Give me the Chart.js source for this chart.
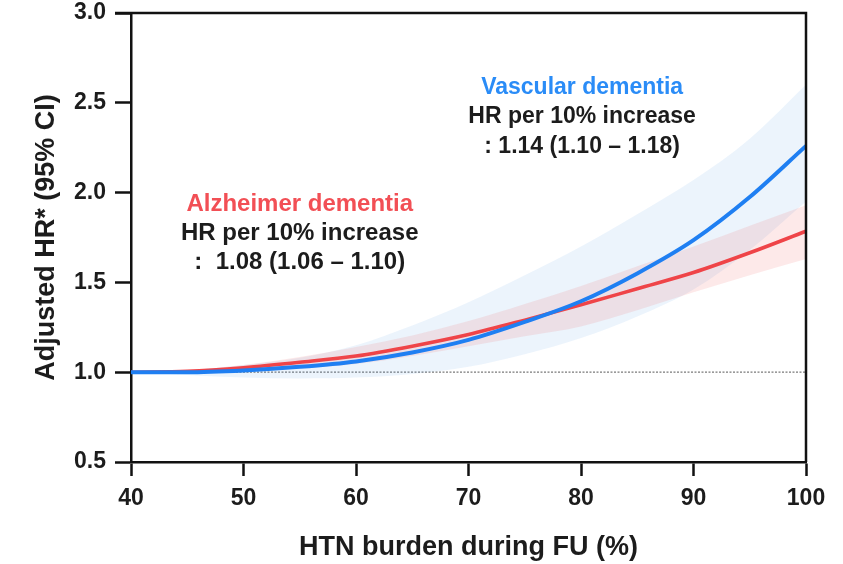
<!DOCTYPE html>
<html>
<head>
<meta charset="utf-8">
<title>HTN burden and dementia risk</title>
<script src="https://cdn.jsdelivr.net/npm/chart.js@4"></script>
<style>
  html, body { margin: 0; padding: 0; background: #fff; }
  #wrap { width: 843px; height: 564px; }
</style>
</head>
<body>
<div id="wrap"><canvas id="c" width="843" height="564"></canvas></div>
<script>
// HTN burden during follow-up (%)
const burden = [40, 45, 50, 55, 60, 65, 70, 75, 80, 85, 90, 95, 100];

// Alzheimer dementia: adjusted HR with 95% CI
const adHR    = [1.00, 1.005, 1.025, 1.055, 1.09, 1.145, 1.21, 1.29, 1.375, 1.465, 1.555, 1.665, 1.785];
const adUpper = [1.00, 1.01, 1.04, 1.085, 1.14, 1.205, 1.285, 1.38, 1.48, 1.59, 1.70, 1.815, 1.93];
const adLower = [1.00, 1.00, 1.005, 1.02, 1.045, 1.09, 1.145, 1.20, 1.255, 1.345, 1.445, 1.54, 1.63];

// Vascular dementia: adjusted HR with 95% CI
const vdHR    = [1.00, 1.00, 1.01, 1.03, 1.06, 1.11, 1.18, 1.28, 1.395, 1.55, 1.735, 1.975, 2.26];
const vdUpper = [1.00, 1.01, 1.04, 1.08, 1.15, 1.26, 1.39, 1.54, 1.70, 1.88, 2.07, 2.30, 2.60];
const vdLower = [1.00, 0.985, 0.97, 0.965, 0.97, 0.99, 1.03, 1.10, 1.19, 1.31, 1.46, 1.68, 1.95];

// Reference HR
const refHR = 1.0;

// Axis ticks
const xTicks = [40, 50, 60, 70, 80, 90, 100];
const yTicks = [0.5, 1.0, 1.5, 2.0, 2.5, 3.0];

// Annotation text
const vdLabel = ['Vascular dementia', 'HR per 10% increase', ': 1.14 (1.10 \u2013 1.18)'];
const adLabel = ['Alzheimer dementia', 'HR per 10% increase', ':  1.08 (1.06 \u2013 1.10)'];

const BLUE = '#1f7ff2';
const RED = '#ef4448';
const INK = '#1c1c1c';
const FONT = '"Liberation Sans", Arial, Helvetica, sans-serif';

const pts = (ys) => burden.map((x, i) => ({ x, y: ys[i] }));

const curve = { pointRadius: 0, cubicInterpolationMode: 'monotone' };

const data = {
  datasets: [
    { ...curve, data: pts(vdUpper), borderWidth: 0, fill: '+1', backgroundColor: 'rgba(45,135,225,0.09)', order: 5 },
    { ...curve, data: pts(vdLower), borderWidth: 0, fill: false, order: 6 },
    { ...curve, data: pts(adUpper), borderWidth: 0, fill: '+1', backgroundColor: 'rgba(235,70,70,0.12)', order: 3 },
    { ...curve, data: pts(adLower), borderWidth: 0, fill: false, order: 4 },
    { ...curve, data: pts(adHR), borderColor: RED, borderWidth: 3.6, fill: false, order: 2 },
    { ...curve, data: pts(vdHR), borderColor: BLUE, borderWidth: 4, fill: false, order: 1 },
    { pointRadius: 0, data: [{ x: burden[0], y: refHR }, { x: burden[burden.length - 1], y: refHR }],
      borderColor: '#7a7a7a', borderWidth: 1.2, borderDash: [2, 1.5], fill: false, order: 7 }
  ]
};

// closes the plot box on top and right
const frame = {
  id: 'frame',
  afterDraw(chart) {
    const { ctx, chartArea: a } = chart;
    ctx.save();
    ctx.strokeStyle = '#111';
    ctx.lineWidth = 2.5;
    ctx.beginPath();
    ctx.moveTo(a.left - 16, a.top);
    ctx.lineTo(a.right, a.top);
    ctx.lineTo(a.right, a.bottom);
    ctx.stroke();
    ctx.restore();
  }
};

// text blocks anchored at data coordinates
const notes = {
  id: 'notes',
  afterDatasetsDraw(chart) {
    const { ctx, scales: { x, y } } = chart;
    const blocks = [
      { lines: vdLabel, at: [80.1, 2.585], size: 23, step: 29.5 },
      { lines: adLabel, at: [55.0, 1.935], size: 24, step: 29 }
    ];
    ctx.save();
    ctx.textAlign = 'center';
    ctx.textBaseline = 'middle';
    blocks.forEach((b, bi) => {
      const cx = x.getPixelForValue(b.at[0]);
      const cy = y.getPixelForValue(b.at[1]);
      b.lines.forEach((t, i) => {
        ctx.font = `bold ${b.size}px ${FONT}`;
        ctx.fillStyle = i === 0 ? (bi === 0 ? '#2a8cf7' : '#f24f55') : INK;
        ctx.fillText(t, cx, cy + i * b.step);
      });
    });
    ctx.restore();
  }
};

new Chart(document.getElementById('c'), {
  type: 'line',
  data,
  plugins: [frame, notes],
  options: {
    responsive: false,
    devicePixelRatio: 1,
    animation: false,
    layout: { padding: { top: 13, right: 37, left: 0, bottom: 0 } },
    plugins: { legend: { display: false }, tooltip: { enabled: false } },
    scales: {
      x: {
        type: 'linear', min: 40, max: 100,
        afterBuildTicks: (s) => { s.ticks = xTicks.map(v => ({ value: v })); },
        afterFit: (s) => { s.height = 102; s.paddingLeft = 0; s.paddingRight = 0; },
        ticks: { color: INK, font: { family: FONT, size: 23, weight: 'bold' }, padding: 9 },
        grid: { drawOnChartArea: false, drawTicks: true, tickLength: 14, tickWidth: 2.5, tickColor: '#111' },
        border: { display: true, color: '#111', width: 2.5 },
        title: { display: true, text: 'HTN burden during FU (%)', color: INK,
                 font: { family: FONT, size: 27, weight: 'bold', lineHeight: 1.2 }, padding: { top: 0, bottom: 0 } }
      },
      y: {
        type: 'linear', min: 0.5, max: 3.0,
        afterBuildTicks: (s) => { s.ticks = yTicks.map(v => ({ value: v })); },
        afterFit: (s) => { s.width = 131; s.paddingTop = 0; s.paddingBottom = 0; },
        ticks: { color: INK, font: { family: FONT, size: 23, weight: 'bold' }, padding: 9,
                 callback: (v) => Number(v).toFixed(1) },
        grid: { drawOnChartArea: false, drawTicks: true, tickLength: 16, tickWidth: 2.5, tickColor: '#111' },
        border: { display: true, color: '#111', width: 2.5 },
        title: { display: true, text: 'Adjusted HR* (95% CI)', color: INK,
                 font: { family: FONT, size: 27, weight: 'bold', lineHeight: 1.2 }, padding: { top: 30, bottom: 0 } }
      }
    }
  }
});
</script>
</body>
</html>
